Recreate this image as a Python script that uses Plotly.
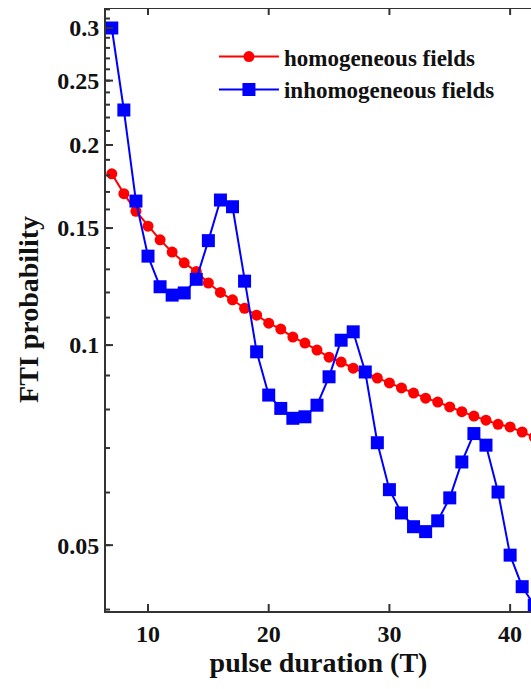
import plotly.graph_objects as go

# pulse duration (T)
T = list(range(7, 43))

homogeneous = [0.181, 0.169, 0.159, 0.151, 0.144, 0.138, 0.133, 0.129, 0.124, 0.120,
               0.117, 0.1136, 0.1109, 0.1079, 0.1057, 0.1028, 0.1007, 0.0983, 0.0959, 0.0943,
               0.0923, 0.0908, 0.0892, 0.0877, 0.0862, 0.0847, 0.0832, 0.0821, 0.0807, 0.0794,
               0.0782, 0.0771, 0.0760, 0.0753, 0.0740, 0.0727]

inhomogeneous = [0.300, 0.2258, 0.1647, 0.1361, 0.1224, 0.1189, 0.1198, 0.1256, 0.1436, 0.1653,
                 0.1615, 0.1248, 0.0977, 0.0841, 0.0803, 0.0776, 0.0780, 0.0812, 0.0896, 0.1017,
                 0.1047, 0.0911, 0.0713, 0.0606, 0.0559, 0.0533, 0.0524, 0.0544, 0.0589, 0.0667,
                 0.0736, 0.0707, 0.0601, 0.0483, 0.0433, 0.0406]

x_ticks = [10, 20, 30, 40]
y_ticks = [0.05, 0.1, 0.15, 0.2, 0.25, 0.3]
y_ticktext = ["0.05", "0.1", "0.15", "0.2", "0.25", "0.3"]
y_minor_ticks = [v / 100 for v in range(4, 33)]

X_RANGE = [6.52, 41.73]
Y_RANGE = [-1.4001, -0.4928]

W, H = 531, 689
ML, MR, MT, MB = 106, 0, 8, 78
PW, PH = W - ML - MR, H - MT - MB

FONT = "Liberation Serif"
AX = "#333333"
TXT = "#111111"

fig = go.Figure()
fig.add_trace(go.Scatter(
    x=T, y=homogeneous, mode="lines+markers", name="<b>homogeneous fields</b>",
    line=dict(color="#ff0000", width=2),
    marker=dict(symbol="circle", size=11, color="#ff0000"),
))
fig.add_trace(go.Scatter(
    x=T, y=inhomogeneous, mode="lines+markers", name="<b>inhomogeneous fields</b>",
    line=dict(color="#0000ff", width=2),
    marker=dict(symbol="square", size=13, color="#0000ff"),
))

# top frame edge and inward ticks, derived from the tick lists and axis ranges
x_per_px = (X_RANGE[1] - X_RANGE[0]) / PW
dec_per_px = (Y_RANGE[1] - Y_RANGE[0]) / PH
y_bot, y_top = 10 ** Y_RANGE[0], 10 ** Y_RANGE[1]
fx, fy = [X_RANGE[0], X_RANGE[1], None], [y_top, y_top, None]
for v in x_ticks:
    fx += [v, v, None, v, v, None]
    fy += [y_bot, y_bot * 10 ** (7 * dec_per_px), None, y_top, y_top / 10 ** (7 * dec_per_px), None]
for v in y_minor_ticks:
    fx += [X_RANGE[0], X_RANGE[0] + 4 * x_per_px, None]
    fy += [v, v, None]
for v in y_ticks:
    fx += [X_RANGE[0], X_RANGE[0] + 7 * x_per_px, None]
    fy += [v, v, None]
fig.add_trace(go.Scatter(
    x=fx, y=fy, mode="lines", line=dict(color=AX, width=2), connectgaps=False,
    showlegend=False, hoverinfo="skip", cliponaxis=False,
))

fig.update_layout(
    width=W, height=H,
    margin=dict(l=ML, r=MR, t=MT, b=MB),
    paper_bgcolor="white", plot_bgcolor="white",
    font=dict(family=FONT, size=24, color=TXT),
    showlegend=True,
    legend=dict(
        x=0.254, y=0.955, xanchor="left", yanchor="top",
        bgcolor="rgba(0,0,0,0)", font=dict(family=FONT, size=23, color=TXT),
        tracegroupgap=0, itemwidth=60,
    ),
    xaxis=dict(
        range=X_RANGE, tickvals=x_ticks, ticktext=[f"<b>{v}</b>" for v in x_ticks],
        ticks="", showline=True, linecolor=AX, linewidth=2, mirror=False,
        showgrid=False, zeroline=False,
        tickfont=dict(family=FONT, size=24, color=TXT),
        title=dict(text="<b>pulse duration (T)</b>", font=dict(family=FONT, size=28, color=TXT), standoff=0),
    ),
    yaxis=dict(
        type="log", range=Y_RANGE,
        tickmode="array", tickvals=y_ticks, ticktext=[f"<b>{t}</b>" for t in y_ticktext],
        ticks="", showline=True, linecolor=AX, linewidth=2, mirror=False,
        showgrid=False, zeroline=False,
        tickfont=dict(family=FONT, size=24, color=TXT),
        title=dict(text="<b>FTI probability</b>", font=dict(family=FONT, size=28, color=TXT), standoff=10),
    ),
)

fig.write_html("out.html")
